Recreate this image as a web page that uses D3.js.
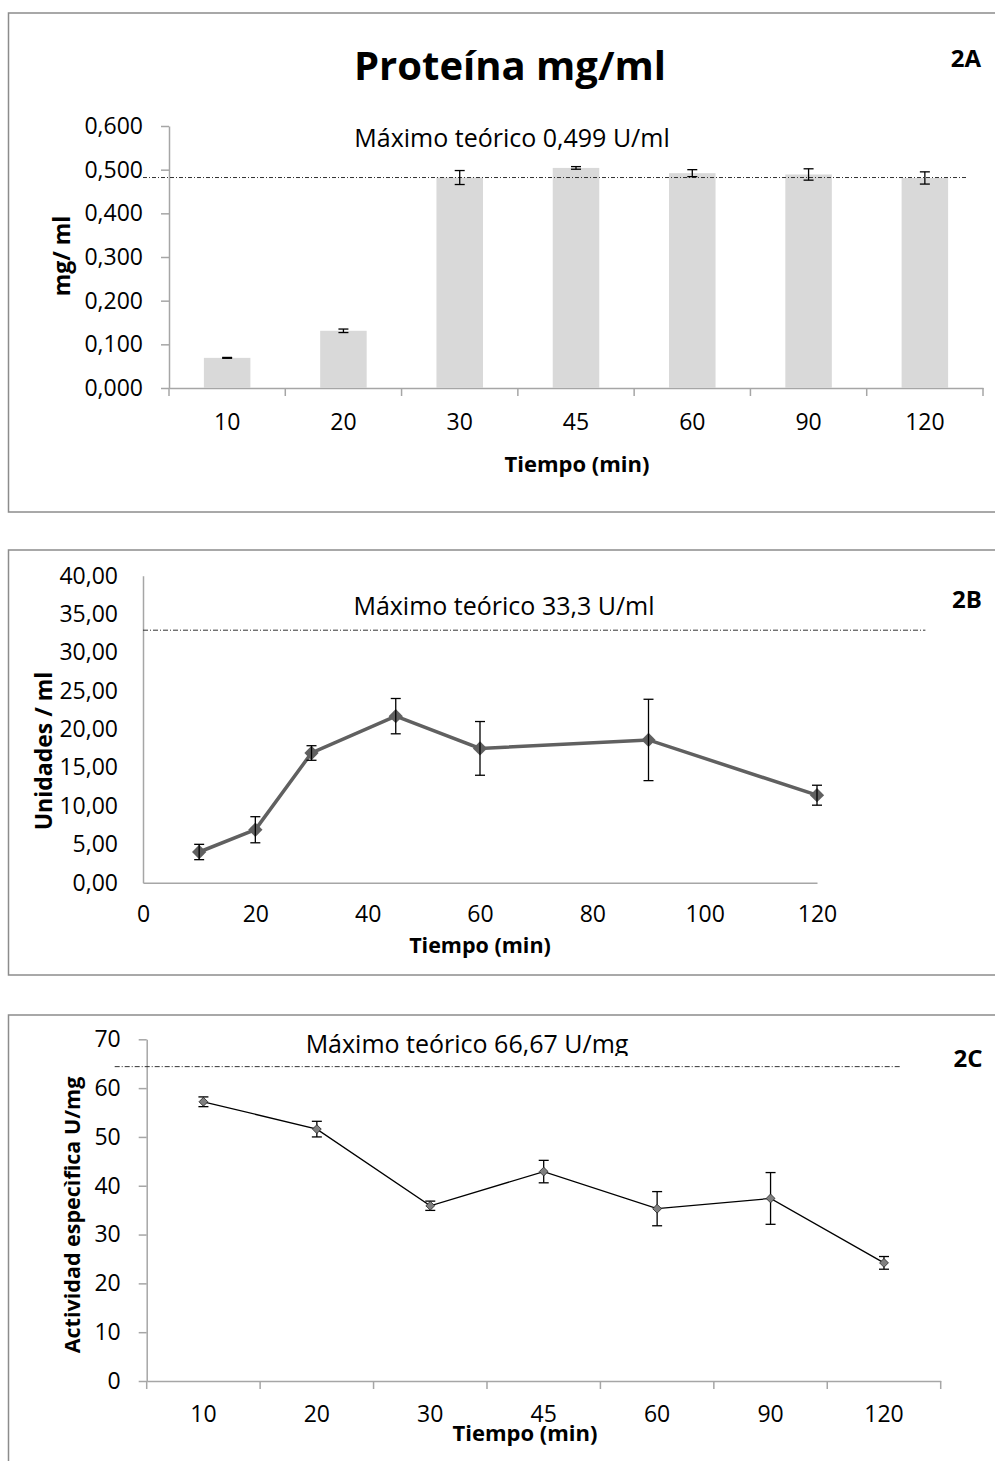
<!DOCTYPE html>
<html>
<head>
<meta charset="utf-8">
<script src="https://cdn.jsdelivr.net/npm/d3@7"></script>
<style>
  body { margin: 0; background: #fff; }
  svg { display: block; font-family: "Open Sans", Lato, sans-serif; }
</style>
</head>
<body>
<div id="svg-container"></div>
<script>
// ---------------- data ----------------
const timeLabels = ["10", "20", "30", "45", "60", "90", "120"];
const timeValues = [10, 20, 30, 45, 60, 90, 120];

// 2A protein mg/ml
const proteinMean = [0.069, 0.131, 0.482, 0.504, 0.492, 0.489, 0.481];
const proteinErr = [0.001, 0.004, 0.016, 0.003, 0.008, 0.013, 0.014];
const proteinTicks = [0, 0.1, 0.2, 0.3, 0.4, 0.5, 0.6];
const proteinRef = 0.482;

// 2B units/ml
const unitsMean = [4.0, 6.9, 16.9, 21.7, 17.5, 18.6, 11.4];
const unitsErr = [1.0, 1.7, 0.95, 2.3, 3.5, 5.3, 1.3];
const unitsTicks = [0, 5, 10, 15, 20, 25, 30, 35, 40];
const unitsXTicks = [0, 20, 40, 60, 80, 100, 120];
const unitsRef = 32.9;

// 2C specific activity U/mg
const specMean = [57.2, 51.6, 35.9, 42.9, 35.3, 37.4, 24.2];
const specErr = [1.0, 1.6, 0.95, 2.3, 3.5, 5.3, 1.3];
const specTicks = [0, 10, 20, 30, 40, 50, 60, 70];
const specRef = 64.4;

const W = 995, H = 1461;
const svg = d3.select("#svg-container").append("svg")
  .attr("width", W).attr("height", H);

const axisGrey = "#a6a6a6";
const borderGrey = "#8c8c8c";
const commaFmt = (digits) => (v) => d3.format(`.${digits}f`)(v).replace(".", ",");

function panelBorder(y0, y1) {
  svg.append("rect")
    .attr("x", 8.5).attr("y", y0)
    .attr("width", W + 20).attr("height", y1 - y0)
    .attr("fill", "none").attr("stroke", borderGrey).attr("stroke-width", 1.5);
}

function styleAxis(g) {
  g.select(".domain").attr("stroke", axisGrey).attr("stroke-width", 1.5);
  g.selectAll(".tick line").attr("stroke", axisGrey).attr("stroke-width", 1.5);
  g.selectAll(".tick text").attr("fill", "#000").attr("font-size", 23)
    .attr("font-family", "'Open Sans', Lato, sans-serif");
}

function errorBars(g, xs, means, errs, y, cap) {
  const eb = g.selectAll(null).data(means).enter().append("g")
    .attr("stroke", "#000").attr("stroke-width", 1.3);
  eb.append("line")
    .attr("x1", (d, i) => xs(i)).attr("x2", (d, i) => xs(i))
    .attr("y1", (d, i) => y(d + errs[i])).attr("y2", (d, i) => y(d - errs[i]));
  eb.append("line")
    .attr("x1", (d, i) => xs(i) - cap).attr("x2", (d, i) => xs(i) + cap)
    .attr("y1", (d, i) => y(d + errs[i])).attr("y2", (d, i) => y(d + errs[i]));
  eb.append("line")
    .attr("x1", (d, i) => xs(i) - cap).attr("x2", (d, i) => xs(i) + cap)
    .attr("y1", (d, i) => y(d - errs[i])).attr("y2", (d, i) => y(d - errs[i]));
}

function yTitle(x, y, text, size) {
  svg.append("text")
    .attr("transform", `translate(${x},${y}) rotate(-90)`)
    .attr("text-anchor", "middle").attr("font-weight", "bold")
    .attr("font-size", size).text(text);
}

function plainText(x, y, text, size, opts = {}) {
  return svg.append("text")
    .attr("x", x).attr("y", y)
    .attr("text-anchor", opts.anchor || "middle")
    .attr("font-weight", opts.bold ? "bold" : "normal")
    .attr("font-size", size).text(text);
}

////////////////////////////////////////////////////////////////////
//////////////////////////// 2A bars ////////////////////////////////
panelBorder(13, 512);

const xA = d3.scaleBand().domain(timeLabels).range([169, 983]).paddingInner(0);
const yA = d3.scaleLinear().domain([0, 0.6]).range([388, 126]);

svg.append("g")
  .attr("transform", "translate(169,0)")
  .call(d3.axisLeft(yA).tickValues(proteinTicks).tickFormat(commaFmt(3)).tickSizeInner(8).tickSizeOuter(0).tickPadding(18))
  .call(styleAxis);

svg.append("g")
  .attr("transform", "translate(0,388)")
  .call(d3.axisBottom(xA).tickSize(0).tickPadding(26))
  .call(styleAxis);

// category separator ticks like Excel (between bands)
svg.append("g").selectAll("line")
  .data(timeLabels.concat(["end"])).enter().append("line")
  .attr("x1", (d, i) => 169 + i * xA.bandwidth())
  .attr("x2", (d, i) => 169 + i * xA.bandwidth())
  .attr("y1", 388).attr("y2", 396)
  .attr("stroke", axisGrey).attr("stroke-width", 1.5);

const barW = xA.bandwidth() * 0.4;
svg.append("g").selectAll("rect")
  .data(proteinMean).enter().append("rect")
  .attr("x", (d, i) => xA(timeLabels[i]) + (xA.bandwidth() - barW) / 2)
  .attr("y", (d) => yA(d))
  .attr("width", barW)
  .attr("height", (d) => yA(0) - yA(d))
  .attr("fill", "#d9d9d9");

// reference line
svg.append("line")
  .attr("x1", 143).attr("x2", 968)
  .attr("y1", yA(proteinRef)).attr("y2", yA(proteinRef))
  .attr("stroke", "#333").attr("stroke-width", 1)
  .attr("stroke-dasharray", "4,2,1,2");

errorBars(svg.append("g"), (i) => xA(timeLabels[i]) + xA.bandwidth() / 2, proteinMean, proteinErr, yA, 5);

plainText(510, 80, "Proteína mg/ml", 40, { bold: true });
plainText(512, 147, "Máximo teórico 0,499 U/ml", 25);
plainText(966, 67, "2A", 24, { bold: true });
yTitle(70, 256, "mg/ ml", 23);
plainText(577, 472, "Tiempo (min)", 22, { bold: true });

////////////////////////////////////////////////////////////////////
//////////////////////////// 2B line ////////////////////////////////
panelBorder(550, 975);

const xB = d3.scaleLinear().domain([0, 120]).range([143, 817]);
const yB = d3.scaleLinear().domain([0, 40]).range([882.7, 575.7]);

svg.append("g")
  .attr("transform", "translate(143,0)")
  .call(d3.axisLeft(yB).tickValues(unitsTicks).tickFormat(commaFmt(2)).tickSize(0).tickPadding(25))
  .call(styleAxis);

svg.append("g")
  .attr("transform", "translate(0,882.7)")
  .call(d3.axisBottom(xB).tickValues(unitsXTicks).tickFormat(d3.format("d")).tickSize(0).tickPadding(23))
  .call(styleAxis);

svg.append("line")
  .attr("x1", xB(0)).attr("x2", xB(139.3))
  .attr("y1", yB(unitsRef)).attr("y2", yB(unitsRef))
  .attr("stroke", "#333").attr("stroke-width", 1)
  .attr("stroke-dasharray", "5,2,1,2");

const lineB = d3.line().x((d, i) => xB(timeValues[i])).y((d) => yB(d));
svg.append("path")
  .datum(unitsMean)
  .attr("d", lineB)
  .attr("fill", "none").attr("stroke", "#606060").attr("stroke-width", 3.5);

svg.append("g").selectAll("path")
  .data(unitsMean).enter().append("path")
  .attr("d", d3.symbol(d3.symbolDiamond2, 130))
  .attr("transform", (d, i) => `translate(${xB(timeValues[i])},${yB(d)})`)
  .attr("fill", "#606060");

errorBars(svg.append("g"), (i) => xB(timeValues[i]), unitsMean, unitsErr, yB, 5);

plainText(504, 615, "Máximo teórico 33,3 U/ml", 25);
plainText(967, 608, "2B", 24, { bold: true });
yTitle(52, 751, "Unidades / ml", 23);
plainText(480, 953, "Tiempo (min)", 21.5, { bold: true });

////////////////////////////////////////////////////////////////////
//////////////////////////// 2C line ////////////////////////////////
panelBorder(1015, H + 20);

const xC = d3.scaleBand().domain(timeLabels).range([146.7, 940.7]).paddingInner(0);
const yC = d3.scaleLinear().domain([0, 70]).range([1381, 1039.3]);

svg.append("g")
  .attr("transform", "translate(146.7,0)")
  .call(d3.axisLeft(yC).tickValues(specTicks).tickFormat(d3.format("d")).tickSizeInner(8).tickSizeOuter(0).tickPadding(18))
  .call(styleAxis);

svg.append("g")
  .attr("transform", "translate(0,1381)")
  .call(d3.axisBottom(xC).tickSize(0).tickPadding(25))
  .call(styleAxis);

svg.append("g").selectAll("line")
  .data(timeLabels.concat(["end"])).enter().append("line")
  .attr("x1", (d, i) => 146.7 + i * xC.bandwidth())
  .attr("x2", (d, i) => 146.7 + i * xC.bandwidth())
  .attr("y1", 1381).attr("y2", 1389)
  .attr("stroke", axisGrey).attr("stroke-width", 1.5);

svg.append("line")
  .attr("x1", xC.range()[0] - 32).attr("x2", xC.range()[1] - 41)
  .attr("y1", yC(specRef)).attr("y2", yC(specRef))
  .attr("stroke", "#333").attr("stroke-width", 1)
  .attr("stroke-dasharray", "5,2,1,2");

const xCc = (i) => xC(timeLabels[i]) + xC.bandwidth() / 2;
svg.append("path")
  .datum(specMean)
  .attr("d", d3.line().x((d, i) => xCc(i)).y((d) => yC(d)))
  .attr("fill", "none").attr("stroke", "#000").attr("stroke-width", 1.3);

errorBars(svg.append("g"), xCc, specMean, specErr, yC, 5);

svg.append("g").selectAll("path")
  .data(specMean).enter().append("path")
  .attr("d", d3.symbol(d3.symbolDiamond2, 50))
  .attr("transform", (d, i) => `translate(${xCc(i)},${yC(d)})`)
  .attr("fill", "#7f7f7f").attr("stroke", "#222").attr("stroke-width", 0.8);

// label clipped at the bottom like the original
svg.append("clipPath").attr("id", "clipC")
  .append("rect").attr("x", 0).attr("y", 1016).attr("width", W).attr("height", 40);
plainText(467, 1053, "Máximo teórico 66,67 U/mg", 25).attr("clip-path", "url(#clipC)");
plainText(968, 1067, "2C", 24, { bold: true });
yTitle(80, 1215, "Actividad especìfica U/mg", 21.5);
// the original title sits over the "45" label; kept at the same spot
plainText(525, 1441, "Tiempo (min)", 22, { bold: true });
</script>
</body>
</html>
